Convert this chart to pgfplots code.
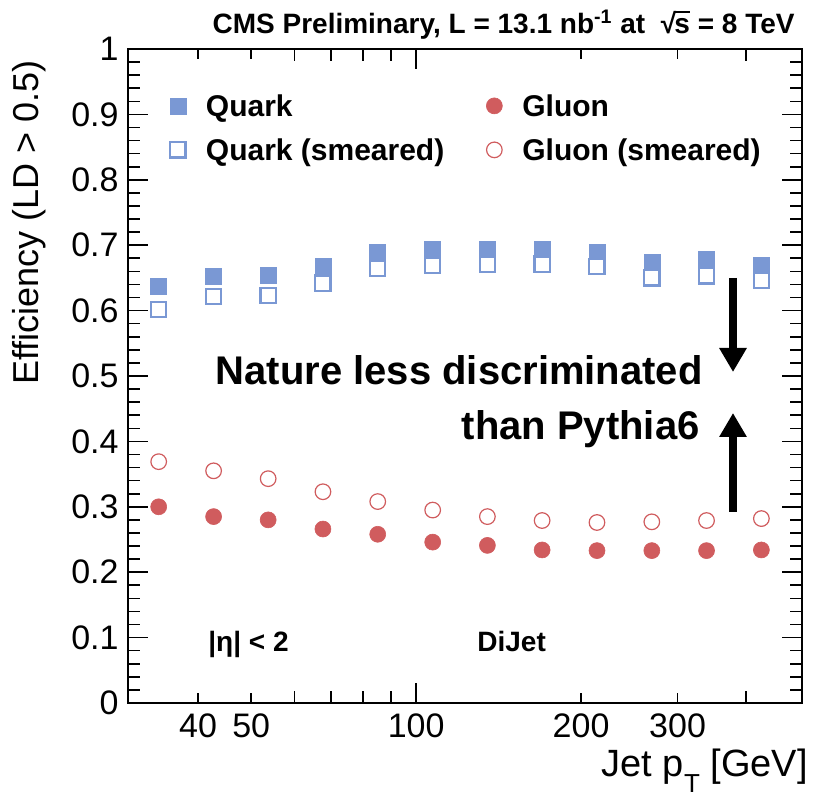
\documentclass[border=0pt]{standalone}
\usepackage{pgfplots}
\pgfplotsset{compat=1.18}
\usepackage{fontspec}
\setmainfont{Liberation Sans}
\usetikzlibrary{arrows.meta}

\definecolor{quarkblue}{RGB}{122,152,212}
\definecolor{gluonred}{RGB}{208,92,94}

\pgfplotsset{
  pointmark/.style={only marks,
    legend image code/.code={\draw[##1] plot coordinates {(0pt,0pt)};}},
}

% square root sign with a bar over the s, kept below cap height + a little
\newcommand{\sqrts}{\mbox{√\kern-0.06em\rlap{\rule[0.74em]{0.56em}{0.07em}}s}}

\begin{document}
\begin{tikzpicture}[x=1pt,y=1pt]
\path[use as bounding box] (-64,-47) rectangle (343,351.5);
\begin{axis}[
  at={(0,0)}, anchor=south west, scale only axis,
  width=337pt, height=327pt,
  xmode=log, xmin=29.8, xmax=506, ymin=0, ymax=1,
  xtick={100}, xticklabels={100},
  extra x ticks={40,50,200,300}, extra x tick labels={40,50,200,300},
  extra x tick style={major tick length=5pt},
  minor xtick={60,70,80,90,400},
  ytick={0,0.1,0.2,0.3,0.4,0.5,0.6,0.7,0.8,0.9,1},
  yticklabels={0,0.1,0.2,0.3,0.4,0.5,0.6,0.7,0.8,0.9,1},
  minor y tick num=4,
  tick align=inside,
  major tick length=10pt, minor tick length=6pt,
  every tick/.style={black, line width=0.8pt},
  axis line style={line width=1pt},
  /pgf/number format/assume math mode=true,
  yticklabel style={font=\fontsize{17}{17}\selectfont, inner sep=0pt, xshift=-4.5pt},
  xticklabel style={font=\fontsize{17}{17}\selectfont, inner sep=0pt, yshift=-5pt},
  legend cell align=left,
  transpose legend,
  legend columns=2,
  legend style={at={(0.0616,0.9358)}, anchor=north west, draw=none, fill=none,
    inner sep=0pt, row sep=7.5pt, column sep=0pt,
    font=\bfseries\fontsize{15}{15}\selectfont,
    nodes={inner sep=0pt, text height=12.5pt, text depth=2pt},
    /tikz/every odd column/.style={column sep=10pt},
    /tikz/column 2/.style={column sep=21pt}},
]
% quark efficiencies
\addplot[pointmark, mark=square*, mark size=4pt,
  mark options={fill=quarkblue, draw=quarkblue, line width=0.3pt}]
  coordinates {(33.9,0.637) (42.7,0.652) (53.7,0.654) (67.6,0.667) (85.1,0.689) (107.2,0.693)
               (134.9,0.694) (169.8,0.694) (213.8,0.689) (269.2,0.674) (338.8,0.679) (426.6,0.670)};
\addlegendentry{Quark}
\addplot[pointmark, mark=square*, mark size=3.8pt,
  mark options={fill=white, draw=quarkblue, line width=1.1pt}]
  coordinates {(33.9,0.602) (42.7,0.622) (53.7,0.623) (67.6,0.642) (85.1,0.665) (107.2,0.669)
               (134.9,0.671) (169.8,0.671) (213.8,0.667) (269.2,0.650) (338.8,0.653) (426.6,0.646)};
\addlegendentry{Quark (smeared)}
% gluon efficiencies
\addplot[pointmark, mark=*, mark size=4pt,
  mark options={fill=gluonred, draw=gluonred, line width=0.3pt}]
  coordinates {(33.9,0.300) (42.7,0.285) (53.7,0.280) (67.6,0.266) (85.1,0.258) (107.2,0.246)
               (134.9,0.241) (169.8,0.234) (213.8,0.233) (269.2,0.233) (338.8,0.233) (426.6,0.234)};
\addlegendentry{Gluon}
\addplot[pointmark, mark=*, mark size=3.9pt,
  mark options={fill=white, draw=gluonred, line width=0.6pt}]
  coordinates {(33.9,0.369) (42.7,0.355) (53.7,0.343) (67.6,0.323) (85.1,0.308) (107.2,0.295)
               (134.9,0.285) (169.8,0.279) (213.8,0.276) (269.2,0.277) (338.8,0.279) (426.6,0.282)};
\addlegendentry{Gluon (smeared)}
\end{axis}

% header and axis titles
\node[anchor=base east, inner sep=0pt, font=\bfseries\fontsize{14}{14}\selectfont]
  at (333.5,334.5) {CMS Preliminary, L = 13.1 nb\textsuperscript{-1} at \ \sqrts{} = 8 TeV};
\node[anchor=base east, inner sep=0pt, font=\fontsize{19}{19}\selectfont]
  at (340,-37) {Jet p\raisebox{-0.4em}{\fontsize{13}{13}\selectfont T} [GeV]};
\node[rotate=90, anchor=north east, inner sep=0pt, font=\fontsize{18}{18}\selectfont]
  at (-58,321.5) {Efficiency (LD > 0.5)};

% annotations
\node[anchor=base west, inner sep=0pt, font=\bfseries\fontsize{14}{14}\selectfont]
  at (40,25.5) {|η| < 2};
\node[anchor=base west, inner sep=0pt, font=\bfseries\fontsize{14}{14}\selectfont]
  at (174.5,25.5) {DiJet};
\node[anchor=base east, inner sep=0pt, font=\bfseries\fontsize{20}{20}\selectfont]
  at (287.5,159) {Nature less discriminated};
\node[anchor=base east, inner sep=0pt, font=\bfseries\fontsize{20}{20}\selectfont]
  at (286,131.5) {than Pythia6};
\draw[line width=4pt, -{Triangle[width=13pt,length=12pt]}] (302.5,212.5) -- (302.5,165.5);
\draw[line width=4pt, -{Triangle[width=13pt,length=12pt]}] (302.5,95.5) -- (302.5,145);
\end{tikzpicture}
\end{document}
